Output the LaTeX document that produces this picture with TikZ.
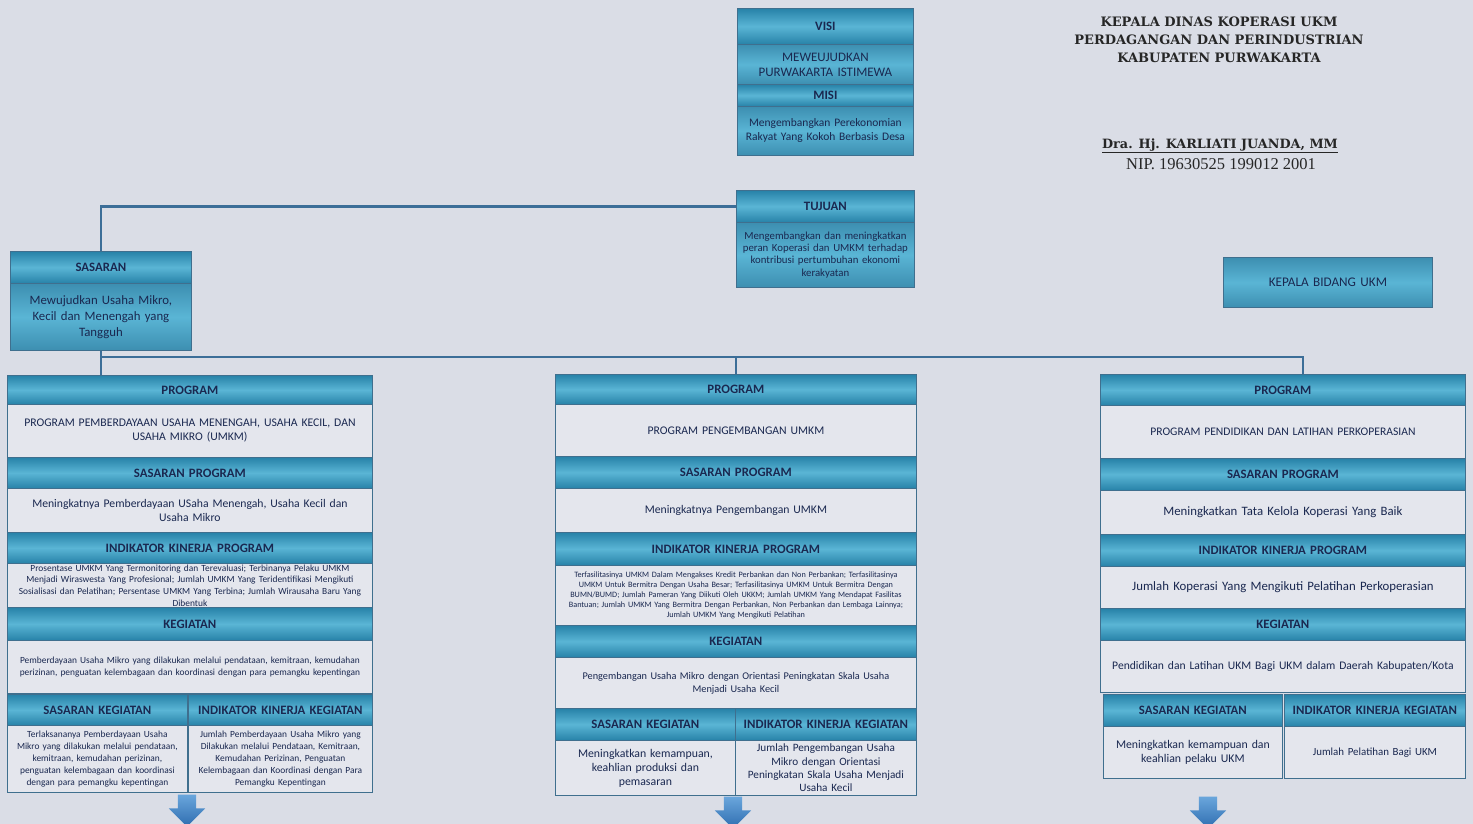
\documentclass[tikz,border=0pt]{standalone}
\usepackage{fontspec}
\setmainfont{Carlito}
\newfontfamily\kopfont{DejaVu Serif}
\newfontfamily\nipfont{Liberation Serif}
\usepackage{tikz}
\usetikzlibrary{shapes.arrows}
\definecolor{latar}{HTML}{DADDE6}
\definecolor{birutua}{HTML}{2782A8}
\definecolor{birumuda}{HTML}{5AB5D5}
\definecolor{abuisi}{HTML}{E4E6ED}
\definecolor{tepi}{HTML}{3F6F8E}
\definecolor{teks}{HTML}{1A2850}
\definecolor{garisbiru}{HTML}{3C6E98}
\definecolor{panahatas}{HTML}{6AA6DC}
\definecolor{panahbawah}{HTML}{2E6DB0}
\tikzset{ukuran/.style 2 args={minimum width=#1pt, minimum height=#2pt, text width=#1pt-10pt}}
\tikzstyle{kotak} = [rectangle, anchor=north west, draw=tepi, line width=0.8pt, inner xsep=5pt, inner ysep=1pt, align=center, text=teks]
\tikzstyle{judul} = [kotak, top color=birutua, bottom color=birutua, middle color=birumuda, font=\bfseries\fontsize{12.8}{14}\selectfont]
\tikzstyle{isi} = [kotak, fill=abuisi, font=\fontsize{11.7}{14}\selectfont]
\tikzstyle{isibiru} = [kotak, top color=birutua!90, bottom color=birutua!90, middle color=birumuda, font=\fontsize{11.7}{15}\selectfont]
\tikzstyle{kecil} = [font=\fontsize{9.4}{12}\selectfont]
\tikzstyle{garis} = [line width=2.5pt, draw=garisbiru]
\tikzstyle{panah} = [single arrow, shape border rotate=270, inner sep=9pt, minimum height=32pt, single arrow head extend=9pt, top color=panahatas, bottom color=panahbawah, draw=none]

\begin{document}
\begin{tikzpicture}[x=1pt, y=-1pt]
\fill [latar] (0,0) rectangle (1473,824);
\useasboundingbox (0,0) rectangle (1473,824);

% kepala dinas
\node (kadis) [align=center, text=black!85, font=\kopfont\bfseries\fontsize{13}{18}\selectfont] at (1219,40) {KEPALA DINAS KOPERASI UKM\\PERDAGANGAN DAN PERINDUSTRIAN\\KABUPATEN PURWAKARTA};
\node (nama) [text=black!85, font=\kopfont\bfseries\fontsize{12.8}{14}\selectfont] at (1220,146) {\underline{Dra. Hj. KARLIATI JUANDA, MM}};
\node (nip) [text=black!85, font=\nipfont\fontsize{16.5}{18}\selectfont] at (1221,164) {NIP. 19630525 199012 2001};

% visi, misi, tujuan
\node (visiH) [judul, ukuran={176}{36}] at (737,8) {VISI};
\node (visiI) [isibiru, ukuran={176}{40}, font=\fontsize{13}{15}\selectfont] at (737,44) {MEWEUJUDKAN\\PURWAKARTA ISTIMEWA};
\node (misiH) [judul, ukuran={176}{22}] at (737,84) {MISI};
\node (misiI) [isibiru, ukuran={176}{49}, font=\fontsize{11.5}{14}\selectfont] at (737,106) {Mengembangkan Perekonomian\\Rakyat Yang Kokoh Berbasis Desa};
\node (tujuanH) [judul, ukuran={178}{32}] at (736,190) {TUJUAN};
\node (tujuanI) [isibiru, ukuran={178}{65}, font=\fontsize{10.8}{12.4}\selectfont] at (736,222) {Mengembangkan dan meningkatkan\\peran Koperasi dan UMKM terhadap\\kontribusi pertumbuhan ekonomi\\kerakyatan};
\node (sasaranH) [judul, ukuran={181}{32}] at (10,251) {SASARAN};
\node (sasaranI) [isibiru, ukuran={181}{67}, font=\fontsize{12.8}{16}\selectfont] at (10,283) {Mewujudkan Usaha Mikro,\\Kecil dan Menengah yang\\Tangguh};
\node (kabid) [isibiru, ukuran={209}{50}, font=\fontsize{13.2}{15}\selectfont] at (1223,257) {KEPALA BIDANG UKM};

% kolom kiri
\node (progA) [judul, ukuran={365}{29}] at (7,375) {PROGRAM};
\node (progAi) [isi, ukuran={365}{53}] at (7,404) {PROGRAM PEMBERDAYAAN USAHA MENENGAH, USAHA KECIL, DAN\\USAHA MIKRO (UMKM)};
\node (sasprogA) [judul, ukuran={365}{31}] at (7,457) {SASARAN PROGRAM};
\node (sasprogAi) [isi, ukuran={365}{44}] at (7,488) {Meningkatnya Pemberdayaan USaha Menengah, Usaha Kecil dan\\Usaha Mikro};
\node (ikpA) [judul, ukuran={365}{31}] at (7,532) {INDIKATOR KINERJA PROGRAM};
\node (ikpAi) [isi, kecil, ukuran={365}{44}, font=\fontsize{9.4}{11.7}\selectfont] at (7,563) {Prosentase UMKM Yang Termonitoring dan Terevaluasi; Terbinanya Pelaku UMKM\\Menjadi Wiraswesta Yang Profesional; Jumlah UMKM Yang Teridentifikasi Mengikuti\\Sosialisasi dan Pelatihan; Persentase UMKM Yang Terbina; Jumlah Wirausaha Baru Yang\\Dibentuk};
\node (kegA) [judul, ukuran={365}{33}] at (7,607) {KEGIATAN};
\node (kegAi) [isi, kecil, ukuran={365}{53}] at (7,640) {Pemberdayaan Usaha Mikro yang dilakukan melalui pendataan, kemitraan, kemudahan\\perizinan, penguatan kelembagaan dan koordinasi dengan para pemangku kepentingan};
\node (skA) [judul, ukuran={180}{31}] at (7,694) {SASARAN KEGIATAN};
\node (ikkA) [judul, ukuran={184}{31}] at (188,694) {INDIKATOR KINERJA KEGIATAN};
\node (skAi) [isi, kecil, ukuran={180}{67}] at (7,725) {Terlaksananya Pemberdayaan Usaha\\Mikro yang dilakukan melalui pendataan,\\kemitraan, kemudahan perizinan,\\penguatan kelembagaan dan koordinasi\\dengan para pemangku kepentingan};
\node (ikkAi) [isi, kecil, ukuran={184}{67}] at (188,725) {Jumlah Pemberdayaan Usaha Mikro yang\\Dilakukan melalui Pendataan, Kemitraan,\\Kemudahan Perizinan, Penguatan\\Kelembagaan dan Koordinasi dengan Para\\Pemangku Kepentingan};
\node (panahA) [panah] at (187,806) {};

% kolom tengah
\node (progB) [judul, ukuran={361}{30}] at (555,374) {PROGRAM};
\node (progBi) [isi, ukuran={361}{52}] at (555,404) {PROGRAM PENGEMBANGAN UMKM};
\node (sasprogB) [judul, ukuran={361}{32}] at (555,456) {SASARAN PROGRAM};
\node (sasprogBi) [isi, ukuran={361}{44}] at (555,488) {Meningkatnya Pengembangan UMKM};
\node (ikpB) [judul, ukuran={361}{33}] at (555,532) {INDIKATOR KINERJA PROGRAM};
\node (ikpBi) [isi, ukuran={361}{60}, font=\fontsize{8.2}{9.8}\selectfont] at (555,565) {Terfasilitasinya UMKM Dalam Mengakses Kredit Perbankan dan Non Perbankan; Terfasilitasinya\\UMKM Untuk Bermitra Dengan Usaha Besar; Terfasilitasinya UMKM Untuk Bermitra Dengan\\BUMN/BUMD; Jumlah Pameran Yang Diikuti Oleh UKKM; Jumlah UMKM Yang Mendapat Fasilitas\\Bantuan; Jumlah UMKM Yang Bermitra Dengan Perbankan, Non Perbankan dan Lembaga Lainnya;\\Jumlah UMKM Yang Mengikuti Pelatihan};
\node (kegB) [judul, ukuran={361}{32}] at (555,625) {KEGIATAN};
\node (kegBi) [isi, ukuran={361}{51}, font=\fontsize{10.3}{13}\selectfont] at (555,657) {Pengembangan Usaha Mikro dengan Orientasi Peningkatan Skala Usaha\\Menjadi Usaha Kecil};
\node (skB) [judul, ukuran={180}{32}] at (555,708) {SASARAN KEGIATAN};
\node (ikkB) [judul, ukuran={181}{32}] at (735,708) {INDIKATOR KINERJA KEGIATAN};
\node (skBi) [isi, ukuran={180}{55}, font=\fontsize{11.8}{14}\selectfont] at (555,740) {Meningkatkan kemampuan,\\keahlian produksi dan\\pemasaran};
\node (ikkBi) [isi, ukuran={181}{55}, font=\fontsize{11.2}{13.2}\selectfont] at (735,740) {Jumlah Pengembangan Usaha\\Mikro dengan Orientasi\\Peningkatan Skala Usaha Menjadi\\Usaha Kecil};
\node (panahB) [panah] at (733,808) {};

% kolom kanan
\node (progC) [judul, ukuran={365}{31}] at (1100,374) {PROGRAM};
\node (progCi) [isi, ukuran={365}{53}, font=\fontsize{11.6}{14}\selectfont] at (1100,405) {PROGRAM PENDIDIKAN DAN LATIHAN PERKOPERASIAN};
\node (sasprogC) [judul, ukuran={365}{32}] at (1100,458) {SASARAN PROGRAM};
\node (sasprogCi) [isi, ukuran={365}{44}, font=\fontsize{12.8}{15}\selectfont] at (1100,490) {Meningkatkan Tata Kelola Koperasi Yang Baik};
\node (ikpC) [judul, ukuran={365}{32}] at (1100,534) {INDIKATOR KINERJA PROGRAM};
\node (ikpCi) [isi, ukuran={365}{42}, font=\fontsize{12.8}{15}\selectfont] at (1100,566) {Jumlah Koperasi Yang Mengikuti Pelatihan Perkoperasian};
\node (kegC) [judul, ukuran={365}{32}] at (1100,608) {KEGIATAN};
\node (kegCi) [isi, ukuran={365}{52}, font=\fontsize{11.6}{14}\selectfont] at (1100,640) {Pendidikan dan Latihan UKM Bagi UKM dalam Daerah Kabupaten/Kota};
\node (skC) [judul, ukuran={179}{32}] at (1103,694) {SASARAN KEGIATAN};
\node (ikkC) [judul, ukuran={181}{32}] at (1284,694) {INDIKATOR KINERJA KEGIATAN};
\node (skCi) [isi, ukuran={179}{52}, font=\fontsize{11.8}{14}\selectfont] at (1103,726) {Meningkatkan kemampuan dan\\keahlian pelaku UKM};
\node (ikkCi) [isi, ukuran={181}{52}, font=\fontsize{10.9}{13}\selectfont] at (1284,726) {Jumlah Pelatihan Bagi UKM};
\node (panahC) [panah] at (1208,808) {};

% garis penghubung
\coordinate (busKanan) at (1303,357);
\draw [garis] (tujuanH.west) -| (sasaranH.north);
\draw [garis] (sasaranI.south) |- (busKanan) -- (busKanan |- progC.north);
\draw [garis] (sasaranI.south) -- (sasaranI.south |- progA.north);
\draw [garis] (progB.north |- busKanan) -- (progB.north);
\end{tikzpicture}
\end{document}
